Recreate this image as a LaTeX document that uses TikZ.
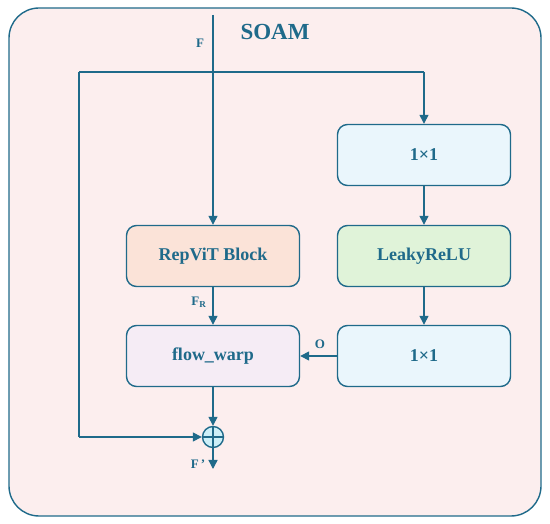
\documentclass[tikz,border=0pt]{standalone}
\usepackage{fontspec}
\setmainfont{Liberation Serif}
\usetikzlibrary{arrows.meta}
\definecolor{ln}{HTML}{1F6A8A}
\definecolor{bgp}{HTML}{FCEEEE}
\definecolor{cblue}{HTML}{EAF6FC}
\definecolor{corange}{HTML}{FBE3D8}
\definecolor{cgreen}{HTML}{E0F3D9}
\definecolor{cpurple}{HTML}{F5ECF5}
\definecolor{ccyan}{HTML}{CDEFF8}
\tikzset{
  blk/.style={draw=ln, line width=1.4pt, rounded corners=10pt, minimum width=173pt, minimum height=61pt, inner sep=0pt, font=\fontsize{18}{18}\selectfont\bfseries, text=ln},
  conn/.style={draw=ln, line width=1.4pt, -{Triangle[length=9pt,width=9pt]}},
  plain/.style={draw=ln, line width=1.4pt},
  lbl/.style={text=ln, font=\fontsize{13}{13}\selectfont\bfseries, inner sep=0pt}
}
\begin{document}
\begin{tikzpicture}[x=1pt,y=-1pt]
\useasboundingbox (0,0) rectangle (550,524);
\draw[draw=ln, fill=bgp, line width=1.4pt, rounded corners=30pt] (9,8) rectangle (541,516);
\node[text=ln, font=\fontsize{23}{23}\selectfont\bfseries] (title) at (275,32) {SOAM};
\node[blk, fill=cblue] (c1) at (424,155) {1×1};
\node[blk, fill=cgreen] (lr) at (424,256) {LeakyReLU};
\node[blk, fill=corange] (rv) at (213,256) {RepViT Block};
\node[blk, fill=cpurple] (fw) at (213,356) {flow\_warp};
\node[blk, fill=cblue] (c2) at (424,356) {1×1};
\node[draw=ln, fill=ccyan, line width=1.4pt, circle, minimum size=21pt, inner sep=0pt] (op) at (213,437) {};
\draw[plain] (op.north) -- (op.south) (op.west) -- (op.east);
\coordinate (fin) at (213,15);
\coordinate (lt) at (79,72);
\coordinate (lb) at (79,437);
\coordinate (rt) at (424,72);
\coordinate (fout) at (213,469);
\draw[conn] (fin) -- (rv);
\draw[plain] (lt) -- (rt);
\draw[conn] (rt) -- (c1);
\draw[plain] (lt) -- (lb);
\draw[conn] (lb) -- (op);
\draw[conn] (c1) -- (lr);
\draw[conn] (lr) -- (c2);
\draw[conn] (c2) -- (fw);
\draw[conn] (rv) -- (fw);
\draw[conn] (fw) -- (op);
\draw[conn] (op) -- (fout);
\node[lbl] (lF) at (200,43) {F};
\node[lbl] (lFR) at (199,302) {F\textsubscript{R}};
\node[lbl] (lO) at (320,344) {O};
\node[lbl] (lFp) at (198,464) {F\,'};
\end{tikzpicture}
\end{document}
